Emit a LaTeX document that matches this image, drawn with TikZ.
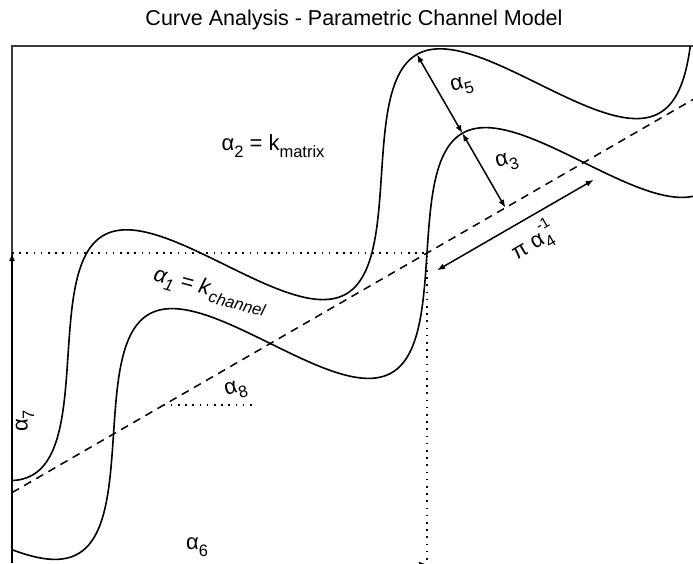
\documentclass[tikz,border=0pt]{standalone}
\usepackage{fontspec}
\setmainfont{Liberation Sans}
\usepackage{xcolor}
\usetikzlibrary{positioning,arrows.meta}
\definecolor{cframe}{HTML}{3A3A3A}
\newcommand\lowr[1]{\raisebox{-0.3em}{\fontsize{16.5}{18}\selectfont #1}}
\newcommand\highr[1]{\raisebox{0.6em}{\fontsize{15}{17}\selectfont #1}}
\tikzset{
  frame/.style={draw=cframe, line width=1.3pt},
  chan/.style={draw=black, line width=1.6pt, smooth},
  axisl/.style={draw=black, line width=1.5pt, dash pattern=on 8pt off 6pt},
  guide/.style={draw=black, line width=1.6pt, dash pattern=on 1.6pt off 5.6pt},
  dim/.style={{Latex[length=8pt,width=6pt]}-{Latex[length=8pt,width=6pt]}, line width=1.5pt},
  arr/.style={-{Latex[length=8pt,width=6pt]}, line width=1.5pt},
  lbl/.style={inner sep=0pt, font=\fontsize{22}{24}\selectfont},
}

\begin{document}
\begin{tikzpicture}[x=1pt,y=-1pt]
  \useasboundingbox (0,0) rectangle (693,563);
  \node[font=\fontsize{21.5}{24}\selectfont] (title) at (354,20) {Curve Analysis - Parametric Channel Model};
  \coordinate (tl) at (12,46);
  \coordinate (tr) at (693,46);
  \coordinate (bl) at (12,563);
  \draw[frame] (bl) -- (tl) -- (tr);

  \coordinate (o) at (427,253);
  \coordinate (ax0) at (12,492.6);
  \coordinate (ax1) at (693,99.5);
  \coordinate (gy) at (12,253);
  \coordinate (gb) at (427,563);
  \coordinate (a8) at (163.5,404.8);
  \coordinate (a8e) at (255,404.8);
  \coordinate (up) at (416.9,54.5);
  \coordinate (lo) at (462.4,133.3);
  \coordinate (ft) at (505.4,207.8);
  \coordinate (p0) at (437,270.3);
  \coordinate (p1) at (593.7,179.8);
  \coordinate (b0) at (12,564.5);
  \coordinate (b1) at (427,564.5);

  \begin{scope}
    \clip (tl) rectangle (693,563);
    \draw[chan] plot[domain=-560:360, samples=320]
      ({427+0.866*\x-43*sin(\x*0.9945)}, {253-0.5*\x-74.5*sin(\x*0.9945)});
    \draw[chan] plot[domain=-560:360, samples=320]
      ({381.5+0.866*\x-43*sin(\x*0.9945)}, {174.2-0.5*\x-74.5*sin(\x*0.9945)});
    \draw[arr] (b0) -- (b1);
  \end{scope}

  \draw[axisl] (ax0) -- (ax1);
  \draw[guide] (gy) -- (o) -- (gb);
  \draw[guide] (a8) -- (a8e);
  \draw[arr] (bl) -- (gy);
  \draw[dim] (up) -- (lo);
  \draw[dim] (lo) -- (ft);
  \draw[dim] (p0) -- (p1);

  \node[lbl] (lmatrix) at (273,146) {α\lowr{2} = k\lowr{matrix}};
  \node[lbl, rotate=-15, font=\fontsize{22}{24}\selectfont\itshape] (lchannel) at (210,291) {α\lowr{1} = k\kern1pt\lowr{channel}};
  \node[lbl, rotate=15] (l5) at (462,86) {α\lowr{5}};
  \node[lbl, rotate=15] (l3) at (507,162) {α\lowr{3}};
  \node[lbl, rotate=30] (l4) at (531,242) {π α\rlap{\highr{-1}}\lowr{4}};
  \node[lbl, rotate=15] (l8) at (236,390) {α\lowr{8}};
  \node[lbl, rotate=90] (l7) at (25,421) {α\lowr{7}};
  \node[lbl] (l6) at (197,547) {α\lowr{6}};
\end{tikzpicture}
\end{document}
